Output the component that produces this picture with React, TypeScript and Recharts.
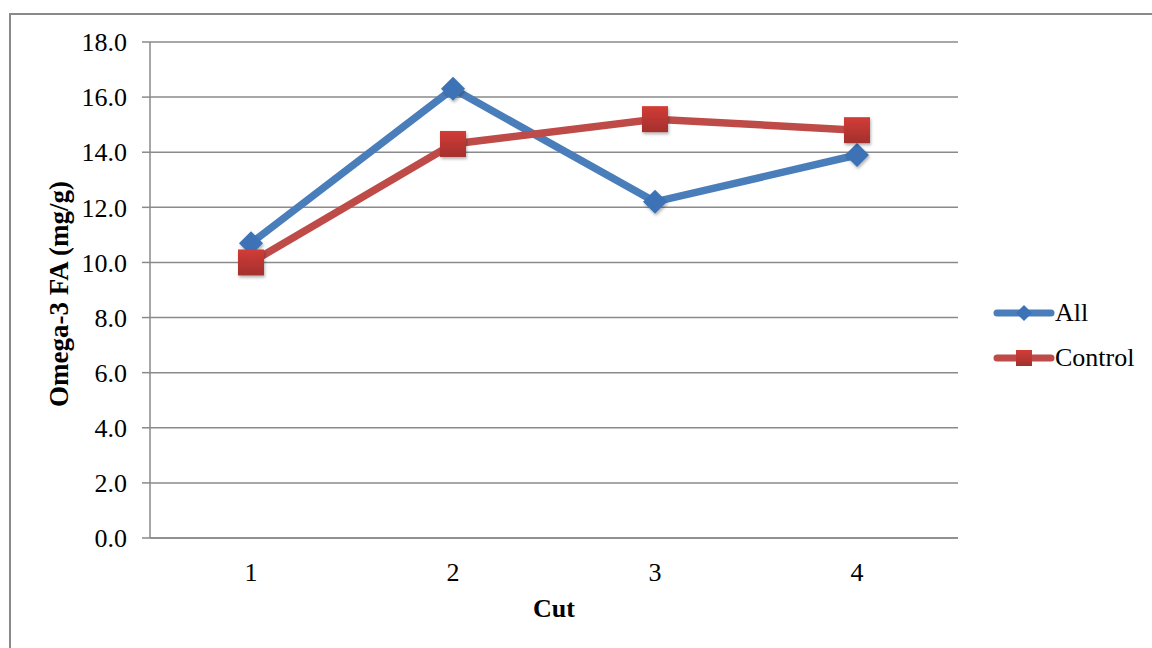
import { LineChart, Line, XAxis, YAxis, CartesianGrid } from 'recharts'

const cuts = ['1', '2', '3', '4']
const allValues = [10.7, 16.3, 12.2, 13.9]
const controlValues = [10.0, 14.3, 15.2, 14.8]
const yTicks = [0, 2, 4, 6, 8, 10, 12, 14, 16, 18]
const legendItems = [
  { name: 'All', color: '#4A7EBB', mark: 'diamond' },
  { name: 'Control', color: '#BE4B48', mark: 'square' },
]

const BLUE = '#4A7EBB'
const RED = '#BE4B48'
const FONT = '"Liberation Serif", "Times New Roman", serif'

const data = cuts.map((c, i) => ({ cut: c, all: allValues[i], control: controlValues[i] }))

// 菱形マーカー
const Diamond = (props: any) => {
  const { cx, cy, index } = props
  if (cx == null || cy == null) return null
  const r = 12
  return (
    <polygon
      key={'d' + index}
      points={`${cx},${cy - r} ${cx + r},${cy} ${cx},${cy + r} ${cx - r},${cy}`}
      fill="#3C72B6"
      filter="url(#mkShadow)"
    />
  )
}

// 四角マーカー
const Square = (props: any) => {
  const { cx, cy, index } = props
  if (cx == null || cy == null) return null
  const s = 26
  return (
    <rect
      key={'s' + index}
      x={cx - s / 2}
      y={cy - s / 2}
      width={s}
      height={s}
      fill="url(#sqGrad)"
      filter="url(#mkShadow)"
    />
  )
}

const LegendBox = () => (
  <div style={{ position: 'absolute', left: 993, top: 290, fontFamily: FONT, fontSize: 26, color: '#000' }}>
    {legendItems.map(item => (
      <div key={item.name} style={{ display: 'flex', alignItems: 'center', height: 45 }}>
        <svg width={62} height={24}>
          <line x1={4} y1={12} x2={58} y2={12} stroke={item.color} strokeWidth={7} strokeLinecap="round" />
          {item.mark === 'diamond' ? (
            <polygon points="31,4 39,12 31,20 23,12" fill="#3C72B6" />
          ) : (
            <rect x={23} y={4} width={16} height={16} fill="url(#sqGrad)" />
          )}
        </svg>
        <span>{item.name}</span>
      </div>
    ))}
  </div>
)

const renderYLabel = () => (
  <text
    x={59}
    y={294}
    transform="rotate(-90 59 294)"
    textAnchor="middle"
    dominantBaseline="central"
    fontFamily={FONT}
    fontSize={27}
    fontWeight="bold"
    fill="#000"
  >
    Omega-3 FA (mg/g)
  </text>
)

const renderXLabel = () => (
  <text
    x={554}
    y={608}
    textAnchor="middle"
    dominantBaseline="central"
    fontFamily={FONT}
    fontSize={26}
    fontWeight="bold"
    fill="#000"
  >
    Cut
  </text>
)

export default function App() {
  return (
    <div style={{ position: 'absolute', left: 0, top: 0, width: 1152, height: 648, background: '#fff', overflow: 'hidden' }}>
      <svg width={0} height={0} style={{ position: 'absolute' }}>
        <defs>
          <linearGradient id="sqGrad" x1="0" y1="0" x2="0" y2="1">
            <stop offset="0%" stopColor="#D23C37" />
            <stop offset="100%" stopColor="#A3302D" />
          </linearGradient>
          <filter id="mkShadow" x="-50%" y="-50%" width="200%" height="200%">
            <feDropShadow dx="1" dy="2" stdDeviation="1.5" floodColor="#000" floodOpacity="0.3" />
          </filter>
        </defs>
      </svg>
      <div
        style={{
          position: 'absolute',
          left: 9,
          top: 13,
          width: 1160,
          height: 660,
          borderLeft: '2px solid #8a8a8a',
          borderTop: '2px solid #8a8a8a',
        }}
      />
      <div style={{ position: 'absolute', left: 0, top: 0 }}>
        <LineChart width={1152} height={648} data={data} margin={{ top: 42, right: 194, bottom: 30, left: 0 }}>
          <CartesianGrid vertical={false} stroke="#8a8a8a" strokeWidth={1.5} />
          <XAxis
            dataKey="cut"
            height={80}
            padding={{ left: 101, right: 101 }}
            tickLine={false}
            axisLine={{ stroke: '#8a8a8a', strokeWidth: 1.5 }}
            tickMargin={19}
            tick={{ fontFamily: FONT, fontSize: 26, fill: '#000' }}
            label={renderXLabel}
          />
          <YAxis
            width={150}
            domain={[0, 18]}
            ticks={yTicks}
            interval={0}
            tickFormatter={(v: number) => v.toFixed(1)}
            tickSize={8}
            tickMargin={15}
            tickLine={{ stroke: '#8a8a8a', strokeWidth: 1.5 }}
            axisLine={{ stroke: '#8a8a8a', strokeWidth: 1.5 }}
            tick={{ fontFamily: FONT, fontSize: 26, fill: '#000' }}
            label={renderYLabel}
          />
          <Line
            type="linear"
            dataKey="all"
            name="All"
            stroke={BLUE}
            strokeWidth={7.5}
            dot={Diamond}
            activeDot={false}
            isAnimationActive={false}
          />
          <Line
            type="linear"
            dataKey="control"
            name="Control"
            stroke={RED}
            strokeWidth={7.5}
            dot={Square}
            activeDot={false}
            isAnimationActive={false}
          />
        </LineChart>
      </div>
      <LegendBox />
    </div>
  )
}
